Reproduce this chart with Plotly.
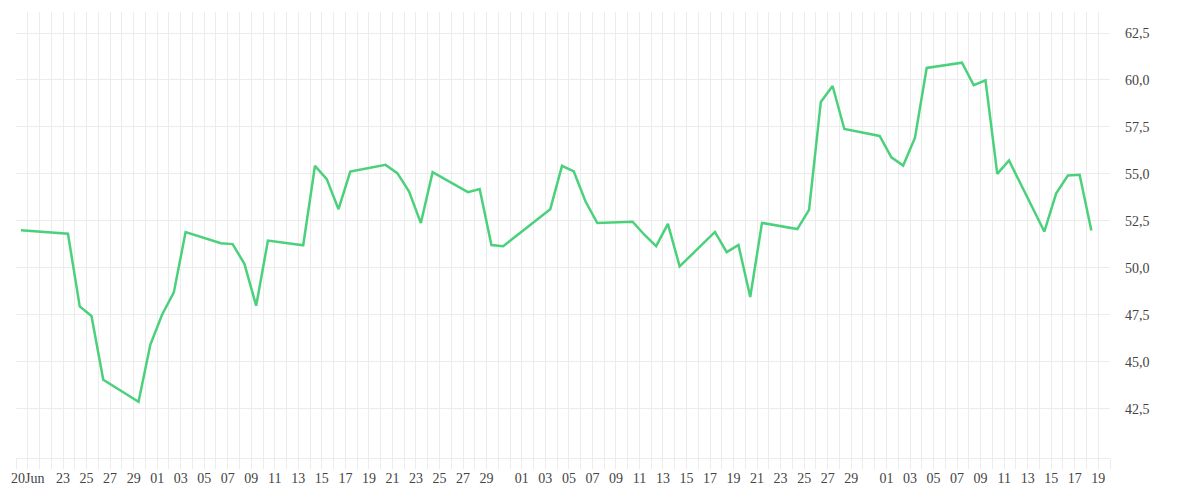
import pandas as pd
import plotly.graph_objects as go

# Daily closing values (2020), weekends / missing days skipped
dates = [
    "2020-06-19", "2020-06-23", "2020-06-24", "2020-06-25", "2020-06-26",
    "2020-06-29", "2020-06-30", "2020-07-01", "2020-07-02", "2020-07-03",
    "2020-07-06", "2020-07-07", "2020-07-08", "2020-07-09", "2020-07-10",
    "2020-07-13", "2020-07-14", "2020-07-15", "2020-07-16", "2020-07-17",
    "2020-07-20", "2020-07-21", "2020-07-22", "2020-07-23", "2020-07-24",
    "2020-07-27", "2020-07-28", "2020-07-29", "2020-07-30",
    "2020-08-03", "2020-08-04", "2020-08-05", "2020-08-06", "2020-08-07",
    "2020-08-10", "2020-08-11", "2020-08-12", "2020-08-13", "2020-08-14",
    "2020-08-17", "2020-08-18", "2020-08-19", "2020-08-20", "2020-08-21",
    "2020-08-24", "2020-08-25", "2020-08-26", "2020-08-27", "2020-08-28",
    "2020-08-31", "2020-09-01", "2020-09-02", "2020-09-03", "2020-09-04",
    "2020-09-07", "2020-09-08", "2020-09-09", "2020-09-10", "2020-09-11",
    "2020-09-14", "2020-09-15", "2020-09-16", "2020-09-17", "2020-09-18",
]
values = [
    52.00, 51.81, 47.94, 47.43, 44.04,
    42.86, 45.90, 47.50, 48.69, 51.90,
    51.31, 51.26, 50.21, 47.98, 51.45,
    51.20, 55.43, 54.72, 53.12, 55.12,
    55.48, 55.04, 54.06, 52.38, 55.09,
    54.03, 54.19, 51.21, 51.15,
    53.12, 55.43, 55.13, 53.53, 52.38,
    52.45, 51.76, 51.15, 52.34, 50.07,
    51.91, 50.83, 51.21, 48.44, 52.39,
    52.06, 53.08, 58.83, 59.68, 57.39,
    57.02, 55.88, 55.44, 56.91, 60.64,
    60.92, 59.72, 59.98, 55.00, 55.71,
    51.93, 53.95, 54.91, 54.95, 51.98,
]

# y-axis ticks
y_ticks = [42.5, 45.0, 47.5, 50.0, 52.5, 55.0, 57.5, 60.0, 62.5]

# x-axis: one grid line per day, labels on odd days (31st and 21 Jun left out)
x_start = "2020-06-19"
x_end = "2020-09-20"
days = pd.date_range(x_start, x_end, freq="D")
tick_text = []
for d in days:
    if d == pd.Timestamp("2020-06-20"):
        tick_text.append("20Jun")
    elif d.day % 2 == 1 and d.day != 31 and d > pd.Timestamp("2020-06-21") and d < pd.Timestamp(x_end):
        tick_text.append(d.strftime("%d"))
    else:
        tick_text.append("")

# readings are stamped late morning, not at midnight
x = pd.to_datetime(dates) + pd.Timedelta(hours=10)

grid = "#ececec"

fig = go.Figure()
fig.add_trace(go.Scatter(
    x=x,
    y=values,
    mode="lines",
    line=dict(color="#4bd17b", width=2.5),
    showlegend=False,
))

# page body has an 8px margin, so margins are set 8px smaller on top/left
fig.update_layout(
    width=1200,
    height=500,
    margin=dict(l=8, r=98, t=4, b=50),
    paper_bgcolor="white",
    plot_bgcolor="white",
    separators=",.",
    font=dict(family="Liberation Serif, Times New Roman, DejaVu Serif, serif", size=14, color="#444"),
    xaxis=dict(
        range=[x_start, x_end],
        tickmode="array",
        tickvals=days,
        ticktext=tick_text,
        showgrid=True,
        gridcolor=grid,
        gridwidth=1,
        ticks="outside",
        ticklen=10,
        tickcolor=grid,
        ticklabelstandoff=-3,
        showline=True,
        linecolor=grid,
        zeroline=False,
    ),
    yaxis=dict(
        side="right",
        range=[39.87, 63.62],
        tickmode="array",
        tickvals=y_ticks,
        tickformat=".1f",
        showgrid=True,
        gridcolor=grid,
        ticks="",
        ticklabelstandoff=14,
        showline=False,
        zeroline=False,
    ),
)

fig.write_html("out.html")
